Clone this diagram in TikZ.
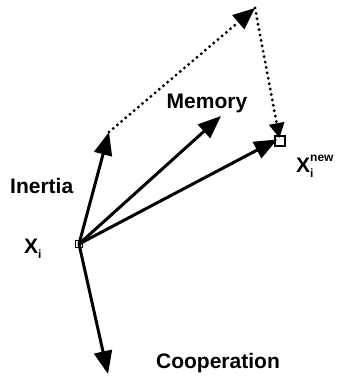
\documentclass[tikz,border=0pt]{standalone}
\usepackage{fontspec}
\setmainfont{Liberation Sans}
\usetikzlibrary{arrows.meta}
\begin{document}
\begin{tikzpicture}[x=1pt,y=-1pt,
  vec/.style={line width=3pt,-{Triangle[length=23pt,width=18pt]}},
  dotvec/.style={line width=3.2pt,line cap=round,dash pattern=on 0pt off 5.5pt,-{Triangle[length=22pt,width=18pt]}},
  pt/.style={draw,line width=1.8pt,fill=white,minimum size=7pt,inner sep=0pt},
  lbl/.style={font=\fontsize{21}{21}\selectfont\bfseries,inner sep=0pt}]
\useasboundingbox (0,0) rectangle (341,376);
\coordinate (in) at (109,132);
\coordinate (mem) at (221,116);
\coordinate (coop) at (108,374);
\coordinate (apex) at (255,8);
\node[pt] (xi) at (79,244) {};
\node[pt,line width=2.8pt,minimum size=10pt] (xn) at (280,141) {};
\draw[vec,shorten >=3pt] (xi.center) -- ([yshift=3pt]xn.center);
\draw[vec] (xi.center) -- (in);
\draw[vec] (xi.center) -- (mem);
\draw[vec] (xi.center) -- (coop);
\draw[dotvec] (in) -- (apex);
\draw[dotvec,-{Triangle[length=15pt,width=15pt]},shorten >=3pt] (apex) -- (xn.center);
\node[lbl,anchor=base] (lmem) at (207,108) {Memory};
\node[lbl,anchor=base west] (lin) at (10,193) {Inertia};
\node[lbl,anchor=base west] (lxi) at (24,253) {X\raisebox{-5pt}{\fontsize{12}{12}\selectfont i}};
\node[lbl,anchor=base west] (lxn) at (296,172) {X\rlap{\raisebox{-5pt}{\fontsize{12}{12}\selectfont i}}\raisebox{11pt}{\fontsize{12}{12}\selectfont new}};
\node[lbl,anchor=base] (lco) at (218,368) {Cooperation};
\end{tikzpicture}
\end{document}
